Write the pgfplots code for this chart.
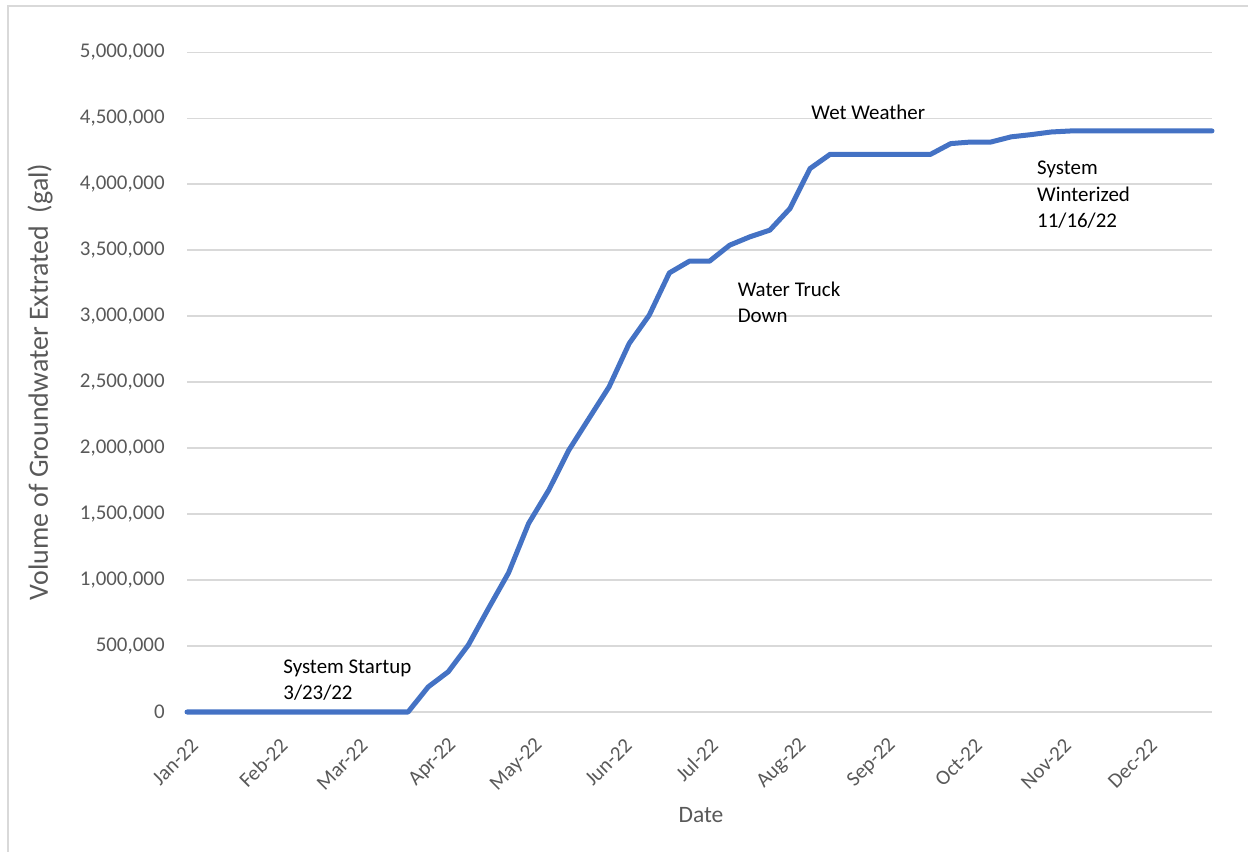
\documentclass[border=0pt]{standalone}
\usepackage{fontspec}
\setmainfont{Carlito}
\usepackage{pgfplots}
\usepackage{pgfplotstable}
\pgfplotsset{compat=1.18}

\definecolor{linecol}{HTML}{4472C4}
\definecolor{txtgray}{HTML}{595959}
\definecolor{gridgray}{HTML}{D9D9D9}

% weekly readings, day = days since 1 Jan 2022
\pgfplotstableread{
day vol
0 0
7 0
14 0
21 0
28 0
35 0
42 0
49 0
56 0
63 0
70 0
77 0
84 190000
91 305000
98 508000
105 785000
112 1055000
119 1430000
126 1682000
133 1985000
140 2225000
147 2464000
154 2793000
161 3008000
168 3328000
175 3417000
182 3417000
189 3538000
196 3601000
203 3652000
210 3816000
217 4119000
224 4227000
231 4227000
238 4227000
245 4227000
252 4227000
259 4227000
266 4308000
273 4320000
280 4320000
287 4359000
294 4376000
301 4396000
308 4404000
315 4404000
322 4404000
329 4404000
336 4404000
343 4404000
350 4404000
357 4404000
}\groundwater

\begin{document}
\begin{tikzpicture}
\useasboundingbox (0,0) rectangle (624bp,426bp);
\draw[gridgray, line width=0.75bp] (4bp,-10bp) rectangle (640bp,423bp);
\begin{axis}[
    at={(93.5bp,70bp)}, anchor=south west, scale only axis,
    width=512.5bp, height=329.85bp,
    xmin=0, xmax=357, ymin=0, ymax=5000000,
    axis line style={draw=none},
    major tick length=0pt,
    xtick={0,31,59,90,120,151,181,212,243,273,304,334},
    xticklabels={Jan-22,Feb-22,Mar-22,Apr-22,May-22,Jun-22,Jul-22,Aug-22,Sep-22,Oct-22,Nov-22,Dec-22},
    ytick={0,500000,...,5000000},
    ymajorgrids, grid style={gridgray, line width=0.75bp},
    scaled y ticks=false,
    /pgf/number format/assume math mode=true,
    y tick label style={/pgf/number format/fixed, /pgf/number format/1000 sep={,}},
    tick label style={font=\fontsize{10.5}{12}\selectfont, text=txtgray, inner sep=0pt},
    x tick label style={xshift=4bp, yshift=-15bp, rotate=45, anchor=east},
    y tick label style={xshift=-11bp, anchor=east},
    clip=false,
]
\addplot[linecol, line width=2.5bp, line join=round, line cap=round] table[x=day, y=vol] {\groundwater};
\end{axis}

\node[rotate=90, text=txtgray, font=\fontsize{14}{16}\selectfont] at (20bp,235bp) {Volume of Groundwater Extrated\ \ (gal)};
\node[text=txtgray, font=\fontsize{11.8}{14}\selectfont] at (350.5bp,18.5bp) {Date};
\begin{scope}[font=\fontsize{10.5}{12}\selectfont]
\node[anchor=base west, inner sep=0pt] at (141.5bp,89bp) {System Startup};
\node[anchor=base west, inner sep=0pt] at (141.5bp,76bp) {3/23/22};
\node[anchor=base west, inner sep=0pt] at (368.7bp,277.7bp) {Water Truck};
\node[anchor=base west, inner sep=0pt] at (368.7bp,264.7bp) {Down};
\node[anchor=base west, inner sep=0pt] at (405.5bp,366.4bp) {Wet Weather};
\node[anchor=base west, inner sep=0pt] at (518.4bp,338.5bp) {System};
\node[anchor=base west, inner sep=0pt] at (518.4bp,325.2bp) {Winterized};
\node[anchor=base west, inner sep=0pt] at (518.4bp,312.4bp) {11/16/22};
\end{scope}
\end{tikzpicture}
\end{document}
